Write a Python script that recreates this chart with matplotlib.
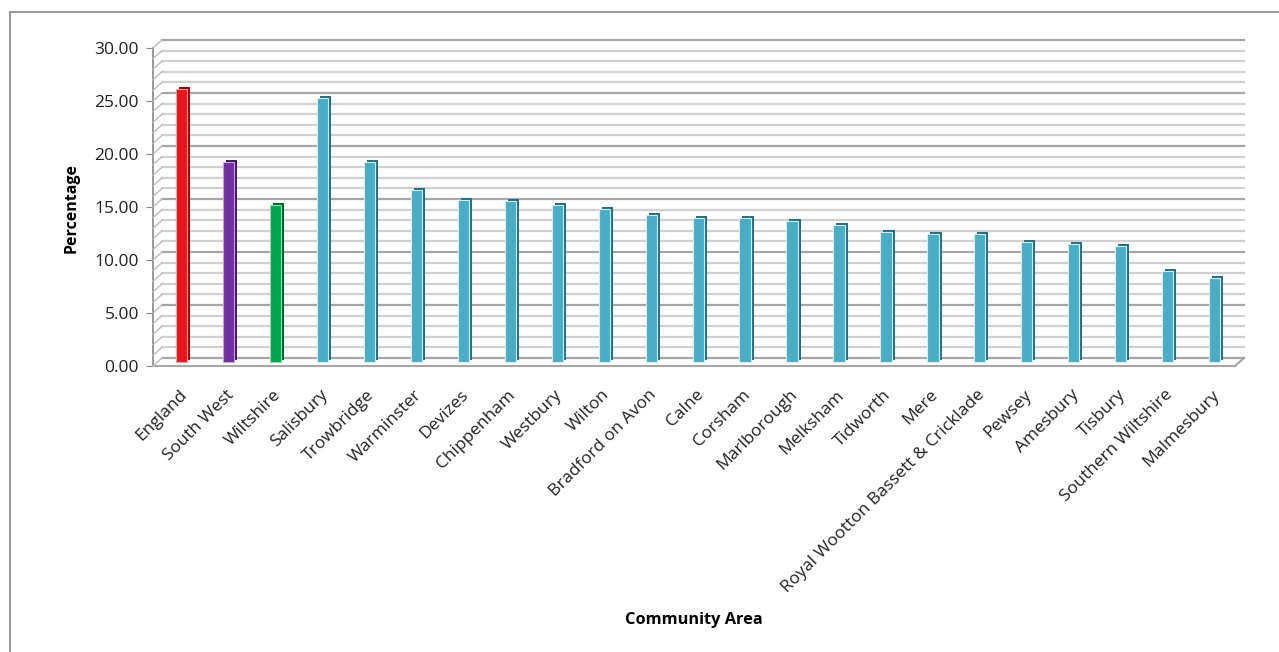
import numpy as np
import matplotlib
matplotlib.use("Agg")
from matplotlib import pyplot as plt
from matplotlib.transforms import ScaledTranslation
from matplotlib.lines import Line2D
from matplotlib.patches import Rectangle

plt.rcParams['font.family'] = ['Open Sans', 'DejaVu Sans']

areas = ["England", "South West", "Wiltshire", "Salisbury", "Trowbridge",
         "Warminster", "Devizes", "Chippenham", "Westbury", "Wilton",
         "Bradford on Avon", "Calne", "Corsham", "Marlborough", "Melksham",
         "Tidworth", "Mere", "Royal Wootton Bassett & Cricklade", "Pewsey",
         "Amesbury", "Tisbury", "Southern Wiltshire", "Malmesbury"]
pct = [25.8, 18.9, 14.8, 24.9, 18.9, 16.2, 15.3, 15.2, 14.8, 14.4,
       13.9, 13.6, 13.6, 13.3, 12.9, 12.3, 12.1, 12.1, 11.3, 11.1,
       10.9, 8.6, 7.9]

teal = "#4bacc6"
face = ["#e8161c", "#7030a0", "#00a550"] + [teal] * (len(areas) - 3)
side = ["#8c0c10", "#3f1a5c", "#00602e"] + ["#2f6b7c"] * (len(areas) - 3)
edge = ["#ff9a9a", "#c7a0e0", "#8fe0b0"] + ["#c8f0fa"] * (len(areas) - 3)

W, H, dpi = 1279, 652, 100
fig = plt.figure(figsize=(W / dpi, H / dpi), dpi=dpi)
ax = fig.add_axes([153 / W, 1 - 366 / H, (1235 - 153) / W, (366 - 48) / H])

x = np.arange(len(areas))
ax.set_xlim(-0.55, 22.5)
ax.set_ylim(0, 30)

# back wall offset and bar offset (pseudo 3D like the Excel chart)
back = ScaledTranslation(9 / dpi, 8 / dpi, fig.dpi_scale_trans)
mid = ScaledTranslation(3 / dpi, 4 / dpi, fig.dpi_scale_trans)
deep = ScaledTranslation(6 / dpi, 6 / dpi, fig.dpi_scale_trans)

ytr = ax.get_yaxis_transform()
for v in range(0, 31):
    major = v % 5 == 0
    ax.plot([0, 1], [v, v], transform=ytr + back,
            color="#a6a6a6" if major else "#d0d0d0", lw=1.6, zorder=0,
            clip_on=False)
    # slanted lines on the left wall
    p0 = ytr.transform((0, v))
    p1 = (ytr + back).transform((0, v))
    fig.add_artist(Line2D([p0[0] / W, p1[0] / W], [p0[1] / H, p1[1] / H],
                          color="#bdbdbd", lw=1))
# floor right end
p0 = ytr.transform((1, 0))
p1 = (ytr + back).transform((1, 0))
fig.add_artist(Line2D([p0[0] / W, p1[0] / W], [p0[1] / H, p1[1] / H],
                      color="#a6a6a6", lw=1.5))

bw = 0.24
ax.bar(x, pct, width=bw, color=side, transform=ax.transData + deep, zorder=2)
ax.bar(x, pct, width=bw, color=face, edgecolor=edge, linewidth=0.8,
       transform=ax.transData + mid, zorder=3)

for s in ["top", "right"]:
    ax.spines[s].set_visible(False)
ax.spines["left"].set_color("#868686")
ax.spines["bottom"].set_color("#a6a6a6")
ax.spines["bottom"].set_linewidth(1.5)
ax.spines["left"].set_linewidth(1.2)

ax.set_yticks(np.arange(0, 31, 5))
ax.set_yticklabels([f"{v:.2f}" for v in np.arange(0, 31, 5)])
ax.tick_params(axis="y", length=5, color="#868686", labelsize=12.5, pad=5,
               labelcolor="#222222")
ax.set_xticks(x)
ax.set_xticklabels(areas, rotation=45, ha="right", rotation_mode="anchor",
                   fontsize=12.5, color="#222222")
ax.tick_params(axis="x", length=0, pad=15)

fig.text(72 / W, 1 - 208 / H, "Percentage", rotation=90, ha="center",
         va="center", fontsize=11.5, fontweight="bold")
fig.text(694 / W, 1 - 620 / H, "Community Area", ha="center", va="center",
         fontsize=11.8, fontweight="bold")

# outer chart frame (only top and left edges visible)
fig.add_artist(Rectangle((10 / W, -0.1), 1.2, 1 - 12 / H + 0.1,
                         fill=False, edgecolor="#9a9a9a", lw=1.5))

fig.savefig("out.png", dpi=dpi)
